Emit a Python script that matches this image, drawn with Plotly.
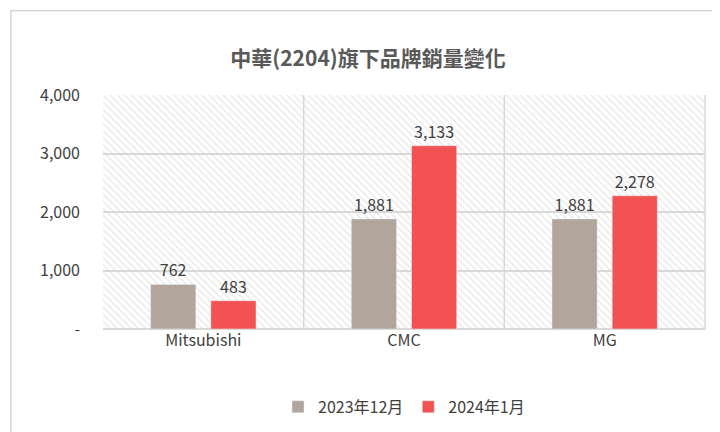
import plotly.graph_objects as go

categories = ["Mitsubishi", "CMC", "MG"]
dec_2023 = [762, 1881, 1881]
jan_2024 = [483, 3133, 2278]
tick_vals = [0, 1000, 2000, 3000, 4000]
tick_text = ["-", "1,000", "2,000", "3,000", "4,000"]

FONT = "Noto Sans CJK TC"

fig = go.Figure()

# hatched background per category (main x axis, drawn underneath)
fig.add_trace(go.Bar(
    x=categories, y=[max(tick_vals)] * len(categories),
    width=1, marker=dict(color="rgba(0,0,0,0)", line=dict(width=0),
                         pattern=dict(shape="\\", fgcolor="#d6d6d6", size=5, solidity=0.3)),
    showlegend=False, hoverinfo="skip",
))

fig.add_trace(go.Bar(
    x=categories, y=dec_2023, name="2023年12月", marker_color="#b1a59c", xaxis="x2",
    text=[f"{v:,}" for v in dec_2023], textposition="outside",
))
fig.add_trace(go.Bar(
    x=categories, y=jan_2024, name="2024年1月", marker_color="#f25252", xaxis="x2",
    text=[f"{v:,}" for v in jan_2024], textposition="outside",
))

# category separators
for xp in [1 / 3, 2 / 3, 1]:
    fig.add_shape(type="line", xref="paper", yref="y", x0=xp, x1=xp, y0=0, y1=4000,
                  line=dict(color="#d9d9d9", width=1.5))

# outer border
fig.add_shape(type="rect", xref="paper", yref="paper", x0=-0.153, x1=1.033, y0=-0.46, y1=1.36,
              line=dict(color="#bfbfbf", width=1), layer="below")

fig.update_traces(textfont=dict(size=16, color="#404040"), cliponaxis=False,
                  selector=dict(textposition="outside"))

fig.update_layout(
    title=dict(text="<b>中華(2204)旗下品牌銷量變化</b>", x=0.5, y=0.9, xanchor="center",
               font=dict(size=21, color="#595959", family=FONT)),
    width=720, height=432,
    margin=dict(l=95, r=23, t=87, b=111),
    paper_bgcolor="white", plot_bgcolor="white",
    font=dict(family=FONT, color="#404040", size=15),
    barmode="group", bargap=0.4, bargroupgap=0.25,
    xaxis=dict(showline=False, showgrid=False, ticks="", tickfont=dict(size=16)),
    xaxis2=dict(overlaying="x", visible=False, matches="x"),
    yaxis=dict(range=[0, 4000], tickvals=tick_vals, ticktext=tick_text, showgrid=True,
               gridcolor="#d9d9d9", gridwidth=1.5, zeroline=True, zerolinecolor="#d9d9d9",
               tickfont=dict(size=16), ticks="", ticklabelstandoff=22),
    legend=dict(orientation="h", x=0.5, xanchor="center", y=-0.26, yanchor="top",
                font=dict(size=16), traceorder="normal"),
)

fig.write_html("out.html")
